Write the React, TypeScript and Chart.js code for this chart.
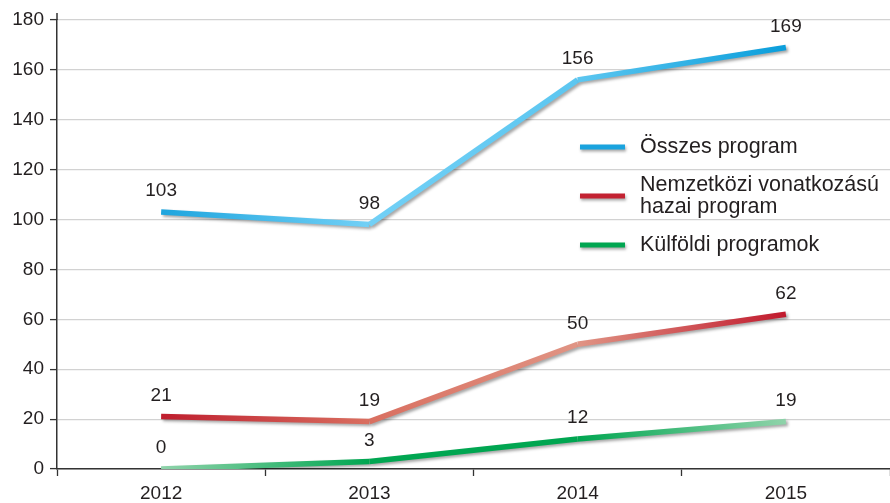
import React, { useEffect, useRef } from "react";
import { Chart, registerables } from "chart.js";

Chart.register(...registerables);

const years = ["2012", "2013", "2014", "2015"];
const osszesProgram = [103, 98, 156, 169];
const nemzetkoziProgram = [21, 19, 50, 62];
const kulfoldiProgramok = [0, 3, 12, 19];
const yMin = 0;
const yMax = 180;
const yStep = 20;

const legendLabels: string[][] = [
  ["Összes program"],
  ["Nemzetközi vonatkozású", "hazai program"],
  ["Külföldi programok"],
];

// colour at each point, segments are blended between them
const blueStops = ["#1ea5de", "#72d0f6", "#5cc6f0", "#0a9edb"];
const redStops = ["#bf1e2e", "#d96f60", "#e09484", "#c11a2e"];
const greenStops = ["#8fd3aa", "#00a651", "#00a651", "#8fd3aa"];
const legendColors = ["#1aa3de", "#c32232", "#00a651"];

const FONT = "'Liberation Sans', Arial, Helvetica, sans-serif";
const TEXT = "#231f20";

const segColor = (stops: string[]) => (ctx: any) => {
  const p0 = ctx.p0;
  const p1 = ctx.p1;
  if (!p0 || !p1 || !isFinite(p0.x) || !isFinite(p1.x)) return stops[ctx.p0DataIndex];
  const c = ctx.chart.ctx as CanvasRenderingContext2D;
  const g = c.createLinearGradient(p0.x, p0.y, p1.x, p1.y);
  g.addColorStop(0, stops[ctx.p0DataIndex]);
  g.addColorStop(1, stops[ctx.p1DataIndex]);
  return g;
};

const shadowPlugin = {
  id: "lineShadow",
  beforeDatasetsDraw(chart: any) {
    const c = chart.ctx;
    c.save();
    c.shadowColor = "rgba(0,0,0,0.35)";
    c.shadowBlur = 3;
    c.shadowOffsetX = 2;
    c.shadowOffsetY = 2;
  },
  afterDatasetsDraw(chart: any) {
    chart.ctx.restore();
  },
};

const labelPlugin = {
  id: "valueLabels",
  afterDatasetsDraw(chart: any) {
    const c = chart.ctx as CanvasRenderingContext2D;
    c.save();
    c.font = `19px ${FONT}`;
    c.fillStyle = TEXT;
    c.textAlign = "center";
    c.textBaseline = "middle";
    chart.data.datasets.forEach((ds: any, i: number) => {
      const meta = chart.getDatasetMeta(i);
      meta.data.forEach((pt: any, j: number) => {
        c.fillText(String(ds.data[j]), pt.x, pt.y - 21);
      });
    });
    c.restore();
  },
};

const legendPlugin = {
  id: "innerLegend",
  afterDraw(chart: any) {
    const c = chart.ctx as CanvasRenderingContext2D;
    const rows = [147, 196, 245];
    c.save();
    legendLabels.forEach((lines, i) => {
      const y = rows[i];
      c.save();
      c.shadowColor = "rgba(0,0,0,0.35)";
      c.shadowBlur = 3;
      c.shadowOffsetX = 1;
      c.shadowOffsetY = 2;
      c.strokeStyle = legendColors[i];
      c.lineWidth = 5;
      c.beginPath();
      c.moveTo(580, y);
      c.lineTo(625, y);
      c.stroke();
      c.restore();
      c.font = `21.5px ${FONT}`;
      c.fillStyle = TEXT;
      c.textAlign = "left";
      c.textBaseline = "middle";
      const lh = 22;
      const start = y - ((lines.length - 1) * lh) / 2;
      lines.forEach((t, k) => c.fillText(t, 640, start + k * lh));
    });
    c.restore();
  },
};

const axisExtendPlugin = {
  id: "axisExtend",
  afterDraw(chart: any) {
    const a = chart.chartArea;
    const c = chart.ctx as CanvasRenderingContext2D;
    c.save();
    c.strokeStyle = "#333";
    c.lineWidth = 1.5;
    c.beginPath();
    c.moveTo(a.left, a.top - 7);
    c.lineTo(a.left, a.top);
    c.stroke();
    c.restore();
  },
};

export default function App() {
  const ref = useRef<HTMLCanvasElement>(null);
  useEffect(() => {
    document.body.style.margin = "0";
    const canvas = ref.current!;
    const mk = (data: number[], stops: string[]) => ({
      data,
      borderWidth: 5.5,
      borderColor: stops[0],
      pointRadius: 0,
      pointHoverRadius: 0,
      tension: 0,
      borderCapStyle: "butt" as const,
      borderJoinStyle: "miter" as const,
      segment: { borderColor: segColor(stops) },
    });
    const chart = new Chart(canvas, {
      type: "line",
      data: {
        labels: years,
        datasets: [
          mk(osszesProgram, blueStops),
          mk(nemzetkoziProgram, redStops),
          mk(kulfoldiProgramok, greenStops),
        ],
      },
      options: {
        responsive: false,
        animation: false,
        layout: { padding: { top: 20, left: 0, right: 0, bottom: 0 } },
        plugins: { legend: { display: false }, tooltip: { enabled: false } },
        scales: {
          x: {
            type: "category",
            offset: true,
            grid: {
              offset: true,
              drawOnChartArea: false,
              tickLength: 7,
              tickColor: "#333",
              tickWidth: 1.3,
            },
            border: { color: "#333", width: 1.5 },
            ticks: { font: { family: FONT, size: 19 }, color: TEXT, padding: 6 },
            afterFit: (s: any) => {
              s.height = 34;
            },
          },
          y: {
            min: yMin,
            max: yMax,
            ticks: { stepSize: yStep, font: { family: FONT, size: 19 }, color: TEXT, padding: 6 },
            grid: { color: "#d2d2d2", lineWidth: 1.2, tickLength: 7, tickColor: "#333", tickWidth: 1.3 },
            border: { color: "#333", width: 1.5 },
            afterFit: (s: any) => {
              s.width = 57;
            },
          },
        },
      },
      plugins: [shadowPlugin, labelPlugin, legendPlugin, axisExtendPlugin],
    });
    return () => chart.destroy();
  }, []);
  return <canvas ref={ref} width={890} height={503} style={{ display: "block" }} />;
}
